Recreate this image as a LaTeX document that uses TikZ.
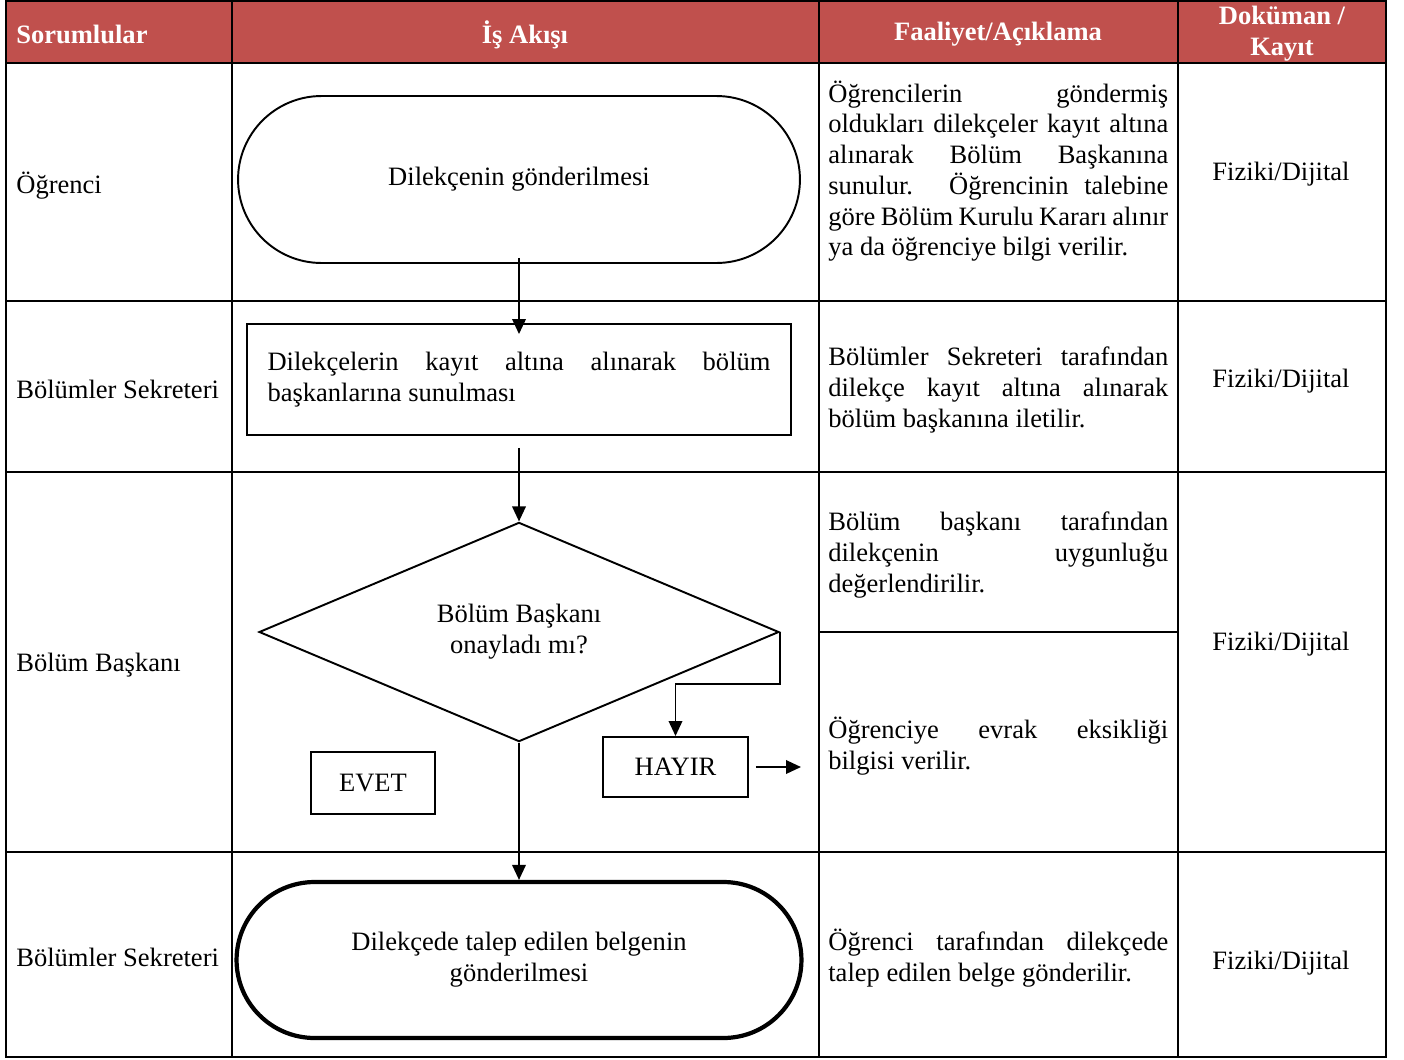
\documentclass[tikz,border=0pt]{standalone}
\usepackage{fontspec}
\setmainfont{Liberation Serif}
\usepackage{xcolor}
\definecolor{formRed}{HTML}{C0504D}
\usepackage{tikz}
\usetikzlibrary{shapes.geometric,shapes.misc,arrows.meta}
\hyphenpenalty=10000
\tolerance=9999

\begin{document}
\begin{tikzpicture}[x=0.02cm, y=-0.02cm, >={Triangle[width=0.27cm,length=0.3cm]},
  every node/.style={font=\fontsize{15.1}{17.5}\selectfont, inner sep=0pt},
  head/.style={font=\fontsize{15.1}{17.5}\selectfont\bfseries, text=white, align=center, yshift=-0.05cm},
  lane/.style={anchor=west, yshift=-0.05cm},
  desc/.style={anchor=west, text width=6.8cm, align=justify, yshift=-0.05cm},
  rec/.style={align=center, yshift=-0.05cm},
  term/.style={draw, rounded rectangle, line width=1.1pt, align=center},
  procbox/.style={draw, line width=1.1pt},
  decision/.style={draw, diamond, line width=1.1pt, align=center, minimum width=10.4cm, minimum height=4.34cm},
  flow/.style={->, line width=1.1pt},
  grid/.style={line width=1pt}]
  \useasboundingbox (0,0) rectangle (1404,1059);
  % ------- table -------
  \fill[formRed] (6,1) rectangle (1386,63);
  \draw[grid] (6,1) rectangle (1386,1057);
  \draw[line width=1.6pt] (6,63) -- (1386,63);
  \foreach \y in {301,472,852} \draw[grid] (6,\y) -- (1386,\y);
  \foreach \x in {232,819,1178} \draw[grid] (\x,1) -- (\x,1057);
  \draw[grid] (819,632) -- (1178,632);
  % ------- header -------
  \node[head, anchor=west] (hResp) at (16,32) {Sorumlular};
  \node[head] (hFlow) at (525,32) {İş Akışı};
  \node[head] (hAct) at (998,32) {Faaliyet/Açıklama};
  \node[head] (hDoc) at (1282,31) {Doküman /\\Kayıt};
  % ------- responsibles -------
  \node[lane] (lStudent) at (16,183) {Öğrenci};
  \node[lane] (lSecA) at (16,387) {Bölümler Sekreteri};
  \node[lane] (lHead) at (16,663) {Bölüm Başkanı};
  \node[lane] (lSecB) at (16,955) {Bölümler Sekreteri};
  % ------- work flow -------
  \node[term, minimum width=11.24cm, minimum height=3.34cm] (send) at (519,179.5) {Dilekçenin gönderilmesi};
  \node[procbox, minimum width=10.9cm, minimum height=2.22cm, text width=10.06cm, align=justify] (record) at (519,379.5)
    {Dilekçelerin kayıt altına alınarak bölüm\linebreak başkanlarına sunulması};
  \node[decision] (approve) at (519,632) {Bölüm Başkanı\\onayladı mı?};
  \node[procbox, minimum width=2.48cm, minimum height=1.24cm] (yes) at (373,783) {EVET};
  \node[procbox, minimum width=2.9cm, minimum height=1.2cm] (no) at (675.5,767) {HAYIR};
  \node[term, line width=2.4pt, minimum width=11.3cm, minimum height=3.12cm] (deliver) at (519,960)
    {Dilekçede talep edilen belgenin\\gönderilmesi};
  \coordinate (noout) at (801,767);
  \draw[flow, shorten <=-0.12cm, shorten >=-0.22cm] (send.south) -- (record.north);
  \draw[flow, shorten <=0.24cm] (record.south) -- (approve.north);
  \draw[flow] (approve.east) -- ++(0,52) -| (no.north);
  \draw[flow] ([xshift=0.14cm]no.east) -- (noout);
  \draw[flow] (approve.south) -- (deliver.north);
  % ------- activities -------
  \node[desc] (dSend) at (828,168.5) {Öğrencilerin göndermiş\linebreak oldukları dilekçeler kayıt altına\linebreak alınarak Bölüm Başkanına\linebreak sunulur. Öğrencinin talebine\linebreak göre Bölüm Kurulu Kararı alınır\linebreak ya da öğrenciye bilgi verilir.};
  \node[desc] (dRecord) at (828,387.5) {Bölümler Sekreteri tarafından\linebreak dilekçe kayıt altına alınarak\linebreak bölüm başkanına iletilir.};
  \node[desc] (dCheck) at (828,552.5) {Bölüm başkanı tarafından\linebreak dilekçenin uygunluğu\linebreak değerlendirilir.};
  \node[desc] (dMissing) at (828,743.5) {Öğrenciye evrak eksikliği\linebreak bilgisi verilir.};
  \node[desc] (dDeliver) at (828,955.5) {Öğrenci tarafından dilekçede\linebreak talep edilen belge gönderilir.};
  % ------- records -------
  \foreach \y/\n in {172/1,379/2,642/3,961/4}
    \node[rec] (rec\n) at (1281,\y) {Fiziki/Dijital};
\end{tikzpicture}
\end{document}
